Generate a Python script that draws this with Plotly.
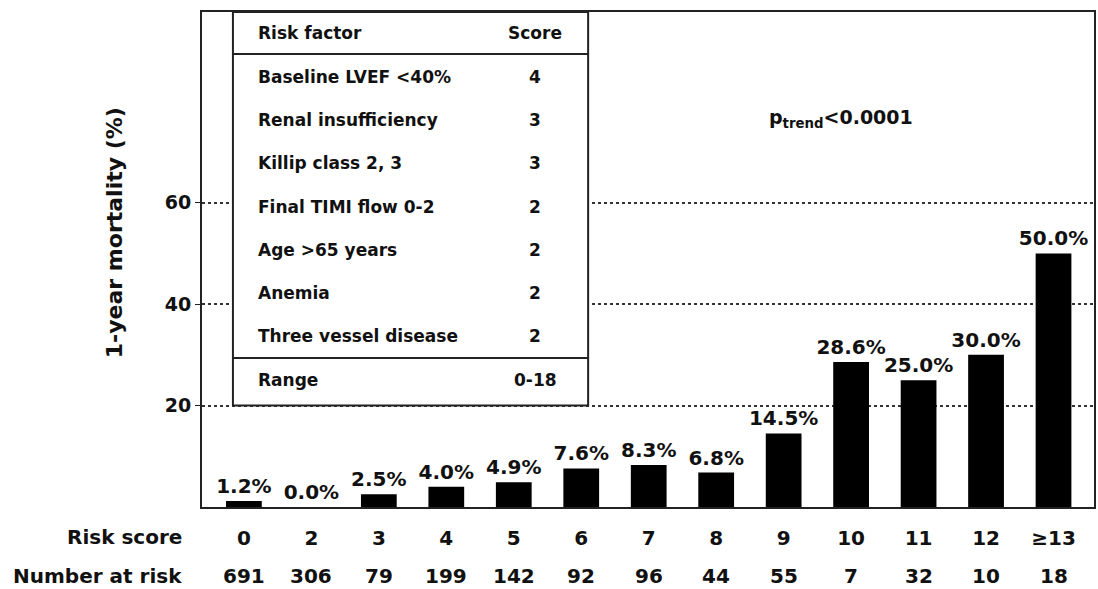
import plotly.graph_objects as go

# ---- data ----
risk_scores = ["0", "2", "3", "4", "5", "6", "7", "8", "9", "10", "11", "12", "≥13"]
mortality = [1.2, 0.0, 2.5, 4.0, 4.9, 7.6, 8.3, 6.8, 14.5, 28.6, 25.0, 30.0, 50.0]
number_at_risk = [691, 306, 79, 199, 142, 92, 96, 44, 55, 7, 32, 10, 18]
risk_factors = ["Baseline LVEF <40%", "Renal insufficiency", "Killip class 2, 3",
                "Final TIMI flow 0-2", "Age >65 years", "Anemia", "Three vessel disease"]
factor_scores = ["4", "3", "3", "2", "2", "2", "2"]
score_range = "0-18"
y_ticks = [20, 40, 60]

W, H = 1098, 589
ML, MR, MT, MB = 202, 2, 12, 82
PW, PH = W - ML - MR, H - MT - MB
YMAX = 97.6

def px_x(px):
    return (px - ML) / PW

def px_y(py):
    return (H - MB - py) / PH

FONT = "DejaVu Sans"
INK = "#111111"

fig = go.Figure()
fig.add_trace(go.Bar(
    x=list(range(len(risk_scores))), y=mortality,
    marker=dict(color="black", line=dict(width=0)),
    text=[f"{v:.1f}%" for v in mortality],
    textposition="outside",
    constraintext="none",
    cliponaxis=False,
    textfont=dict(family=FONT, size=20, color=INK, weight="bold"),
    hoverinfo="skip",
))

annotations = []
# number at risk row
for i, n in enumerate(number_at_risk):
    annotations.append(dict(x=i, xref="x", y=px_y(576), yref="paper",
                            text=str(n), showarrow=False, xanchor="center", yanchor="middle",
                            font=dict(family=FONT, size=20, color=INK, weight="bold")))
annotations.append(dict(x=px_x(184), xref="paper", y=px_y(537), yref="paper", text="Risk score",
                        showarrow=False, xanchor="right", yanchor="middle",
                        font=dict(family=FONT, size=20, color=INK, weight="bold")))
annotations.append(dict(x=px_x(184), xref="paper", y=px_y(576), yref="paper", text="Number at risk",
                        showarrow=False, xanchor="right", yanchor="middle",
                        font=dict(family=FONT, size=20, color=INK, weight="bold")))
# y title
annotations.append(dict(x=px_x(114), xref="paper", y=px_y(233), yref="paper",
                        text="1-year mortality (%)", textangle=-90, showarrow=False,
                        xanchor="center", yanchor="middle",
                        font=dict(family=FONT, size=22, color=INK, weight="bold")))
# p trend
annotations.append(dict(x=px_x(842), xref="paper", y=px_y(118), yref="paper",
                        text="p<sub>trend</sub><0.0001", showarrow=False,
                        xanchor="center", yanchor="middle",
                        font=dict(family=FONT, size=19, color=INK, weight="bold")))

# table text
tab_left, tab_right = px_x(233), px_x(589)
name_x, score_x = px_x(256), px_x(536)
tfont = dict(family=FONT, size=17, color=INK, weight="bold")
annotations.append(dict(x=name_x, xref="paper", y=px_y(33), yref="paper", text="Risk factor",
                        showarrow=False, xanchor="left", yanchor="middle", font=tfont))
annotations.append(dict(x=score_x, xref="paper", y=px_y(33), yref="paper", text="Score",
                        showarrow=False, xanchor="center", yanchor="middle", font=tfont))
for i, (f, s) in enumerate(zip(risk_factors, factor_scores)):
    yy = px_y(77 + 43.2 * i)
    annotations.append(dict(x=name_x, xref="paper", y=yy, yref="paper", text=f,
                            showarrow=False, xanchor="left", yanchor="middle", font=tfont))
    annotations.append(dict(x=score_x, xref="paper", y=yy, yref="paper", text=s,
                            showarrow=False, xanchor="center", yanchor="middle", font=tfont))
annotations.append(dict(x=name_x, xref="paper", y=px_y(380), yref="paper", text="Range",
                        showarrow=False, xanchor="left", yanchor="middle", font=tfont))
annotations.append(dict(x=score_x, xref="paper", y=px_y(380), yref="paper", text=score_range,
                        showarrow=False, xanchor="center", yanchor="middle", font=tfont))

shapes = [
    dict(type="rect", xref="paper", yref="y", x0=tab_left, x1=tab_right, y0=20, y1=YMAX,
         fillcolor="white", line=dict(color="#222", width=2), layer="above"),
    dict(type="line", xref="paper", yref="paper", x0=tab_left, x1=tab_right,
         y0=px_y(54), y1=px_y(54), line=dict(color="#222", width=2), layer="above"),
    dict(type="line", xref="paper", yref="paper", x0=tab_left, x1=tab_right,
         y0=px_y(358), y1=px_y(358), line=dict(color="#222", width=2), layer="above"),
]

fig.update_layout(
    width=W, height=H,
    margin=dict(l=ML, r=MR, t=MT, b=MB),
    paper_bgcolor="white", plot_bgcolor="white",
    showlegend=False,
    bargap=0.47,
    annotations=annotations,
    shapes=shapes,
    font=dict(family=FONT, color=INK),
    xaxis=dict(range=[-0.621, 12.6], showgrid=False, zeroline=False,
               tickmode="array", tickvals=list(range(len(risk_scores))), ticktext=risk_scores,
               showline=True, linecolor="#222", linewidth=2, mirror=True,
               ticks="", ticklabelstandoff=12,
               tickfont=dict(family=FONT, size=20, color=INK, weight="bold")),
    yaxis=dict(range=[0, YMAX], tickvals=y_ticks, showgrid=True,
               gridcolor="#333", gridwidth=1.5, griddash="dot",
               showline=True, linecolor="#222", linewidth=2, mirror=True,
               ticks="outside", ticklen=5, tickcolor="#222", zeroline=False,
               tickfont=dict(family=FONT, size=19, color=INK, weight="bold")),
)

fig.write_html("out.html", config={"displayModeBar": False},
               post_script="document.body.style.margin='0';document.body.style.overflow='hidden';")
